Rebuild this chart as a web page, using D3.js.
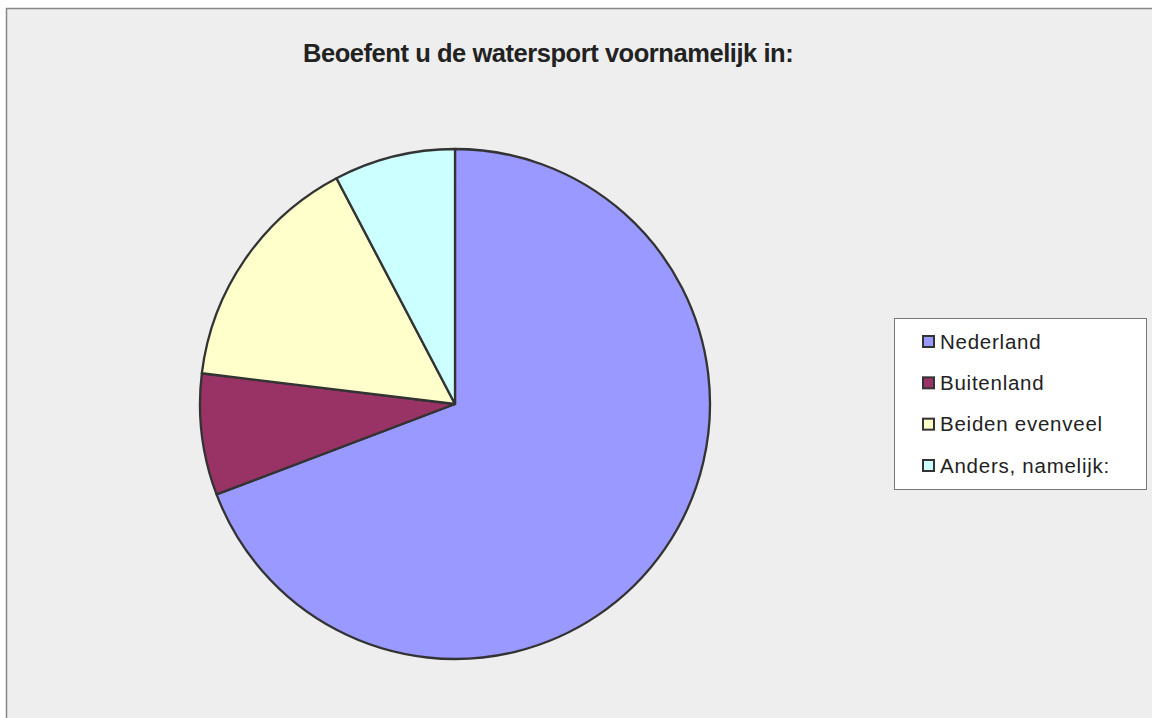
<!DOCTYPE html>
<html>
<head>
<meta charset="utf-8">
<script src="https://cdn.jsdelivr.net/npm/d3@7"></script>
<style>
  body { margin: 0; background: #fff; }
  svg { display: block; }
  text { font-family: "Liberation Sans", Arial, sans-serif; fill: #222; }
</style>
</head>
<body>
<svg id="chart" width="1152" height="718"></svg>
<script>
// data
const categories = ["Nederland", "Buitenland", "Beiden evenveel", "Anders, namelijk:"];
const counts = [18, 2, 4, 2];
const colors = ["#9999ff", "#993366", "#ffffcc", "#ccffff"];
const title = "Beoefent u de watersport voornamelijk in:";

const svg = d3.select("#chart");

// chart area frame
svg.append("rect")
    .attr("x", 6.5).attr("y", 8.5)
    .attr("width", 1160).attr("height", 720)
    .attr("fill", "#eeeeee")
    .attr("stroke", "#888")
    .attr("stroke-width", 1.5);

svg.append("text")
    .attr("x", 303).attr("y", 62)
    .attr("font-size", 25.5)
    .attr("font-weight", "bold")
    .attr("letter-spacing", -0.45)
    .attr("fill", "#2a2a2a")
    .text(title);

// pie
const cx = 455, cy = 404, radius = 255;
const pie = d3.pie().sort(null).value(d => d);
const arc = d3.arc().innerRadius(0).outerRadius(radius);
const color = d3.scaleOrdinal().domain(categories).range(colors);

const g = svg.append("g").attr("transform", `translate(${cx},${cy})`);
g.selectAll("path")
    .data(pie(counts))
    .enter()
    .append("path")
    .attr("d", arc)
    .attr("fill", (d, i) => color(categories[i]))
    .attr("stroke", "#333")
    .attr("stroke-width", 2.3)
    .attr("stroke-linejoin", "round");

// legend
const legend = svg.append("g").attr("transform", "translate(894.5,318.5)");
legend.append("rect")
    .attr("width", 252).attr("height", 171)
    .attr("fill", "#fff")
    .attr("stroke", "#777")
    .attr("stroke-width", 1);

const y = d3.scalePoint().domain(categories).range([23, 147]);
const item = legend.selectAll(".item")
    .data(categories)
    .enter()
    .append("g")
    .attr("class", "item")
    .attr("transform", d => `translate(0,${y(d)})`);

item.append("rect")
    .attr("x", 28.5).attr("y", -5.5)
    .attr("width", 11).attr("height", 11)
    .attr("fill", d => color(d))
    .attr("stroke", "#333")
    .attr("stroke-width", 2);

item.append("text")
    .attr("x", 45.5).attr("y", 7)
    .attr("font-size", 20.5)
    .attr("letter-spacing", 0.75)
    .attr("fill", "#2a2a2a")
    .text(d => d);
</script>
</body>
</html>
